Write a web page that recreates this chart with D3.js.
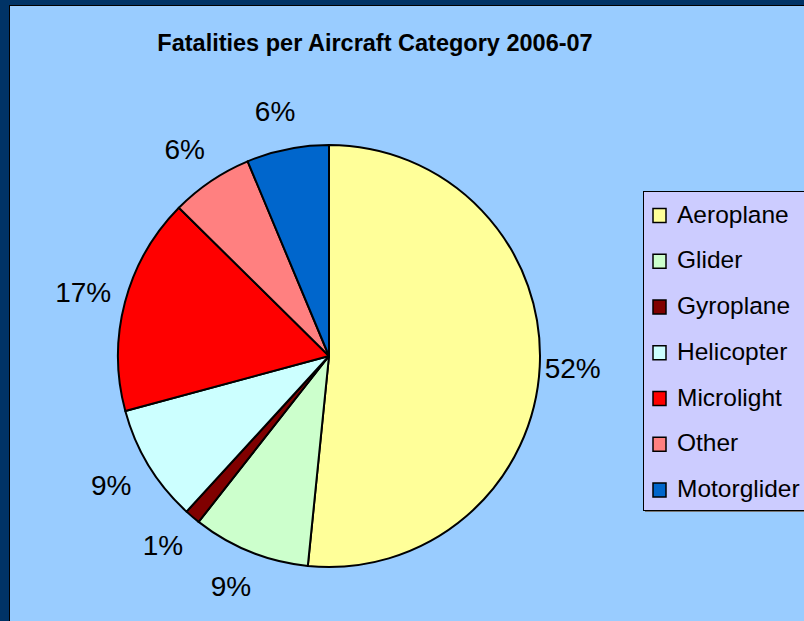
<!DOCTYPE html>
<html>
<head>
<meta charset="utf-8">
<script src="https://cdn.jsdelivr.net/npm/d3@7"></script>
<style>
  html, body { margin: 0; padding: 0; background: #003366; }
  svg { display: block; font-family: "Liberation Sans", Arial, sans-serif; }
</style>
</head>
<body>
<script>
const categories = ["Aeroplane", "Glider", "Gyroplane", "Helicopter", "Microlight", "Other", "Motorglider"];
const shares = [51.6, 9.0, 1.2, 9.0, 16.6, 6.3, 6.3];
const colours = ["#FFFF99", "#CCFFCC", "#800000", "#CCFFFF", "#FF0000", "#FF8080", "#0066CC"];
const title = "Fatalities per Aircraft Category 2006-07";

const width = 804;
const height = 621;
const centre = { x: 329, y: 356 };
const radius = 211;
const labelRadius = 249;

const svg = d3.select("body")
    .append("svg")
    .attr("width", width)
    .attr("height", height);

// outer frame and panel
svg.append("rect")
    .attr("width", width)
    .attr("height", height)
    .attr("fill", "#003366");

svg.append("rect")
    .attr("x", 9.5)
    .attr("y", 5.5)
    .attr("width", width + 20)
    .attr("height", height + 20)
    .attr("fill", "#99CCFF")
    .attr("stroke", "#000")
    .attr("stroke-width", 1);

svg.append("text")
    .attr("x", 375)
    .attr("y", 51)
    .attr("text-anchor", "middle")
    .style("font-size", "23.5px")
    .style("font-weight", "bold")
    .text(title);

const data = categories.map((c, i) => ({ name: c, value: shares[i], colour: colours[i] }));

const pie = d3.pie()
    .sort(null)
    .value(d => d.value);

const arc = d3.arc()
    .innerRadius(0)
    .outerRadius(radius);

const labelArc = d3.arc()
    .innerRadius(labelRadius)
    .outerRadius(labelRadius);

const slices = pie(data);

const pieGroup = svg.append("g")
    .attr("transform", `translate(${centre.x},${centre.y})`);

pieGroup.selectAll("path")
    .data(slices)
    .enter()
    .append("path")
    .attr("d", arc)
    .attr("fill", d => d.data.colour)
    .attr("stroke", "#000")
    .attr("stroke-width", 2)
    .attr("stroke-linejoin", "round");

// labels sit a little left of the pie centre, as in the original
pieGroup.append("g")
    .attr("transform", "translate(-5,0)")
    .selectAll("text")
    .data(slices)
    .enter()
    .append("text")
    .attr("transform", d => `translate(${labelArc.centroid(d)})`)
    .attr("text-anchor", "middle")
    .attr("dy", "0.33em")
    .style("font-size", "28px")
    .text(d => Math.round(d.data.value) + "%");

// legend
const legendX = 643.5;
const legendY = 191.5;
const rowStep = 45.75;
const firstRow = 215.5;

svg.append("rect")
    .attr("x", legendX + 1.5)
    .attr("y", legendY + 1.5)
    .attr("width", 200)
    .attr("height", 319)
    .attr("fill", "#777");

svg.append("rect")
    .attr("x", legendX)
    .attr("y", legendY)
    .attr("width", 200)
    .attr("height", 319)
    .attr("fill", "#CCCCFF")
    .attr("stroke", "#000")
    .attr("stroke-width", 1);

const legend = svg.append("g");

const items = legend.selectAll("g")
    .data(data)
    .enter()
    .append("g")
    .attr("transform", (d, i) => `translate(0,${firstRow + i * rowStep})`);

items.append("rect")
    .attr("x", 653)
    .attr("y", -7)
    .attr("width", 13)
    .attr("height", 14)
    .attr("fill", d => d.colour)
    .attr("stroke", "#000")
    .attr("stroke-width", 1.5);

items.append("text")
    .attr("x", 677)
    .attr("y", 7)
    .style("font-size", "24.5px")
    .text(d => d.name);
</script>
</body>
</html>
